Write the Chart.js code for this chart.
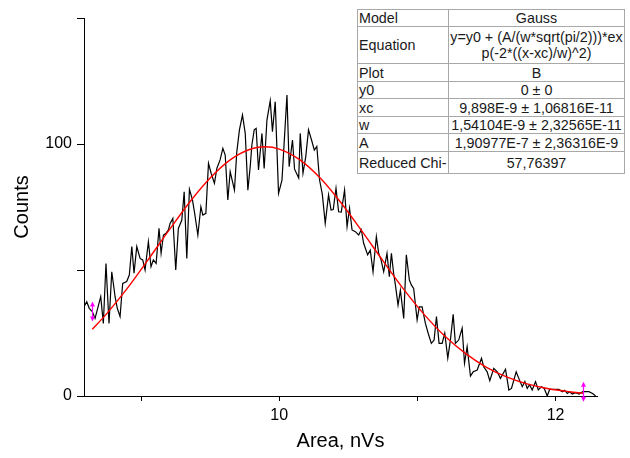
<!DOCTYPE html>
<html>
<head>
<meta charset="utf-8">
<script src="https://cdn.jsdelivr.net/npm/chart.js@4"></script>
<style>
  body { margin: 0; background: #fff; }
  #wrap { position: relative; width: 630px; height: 458px; }
  #fitTable {
    position: absolute; left: 357px; top: 9px; width: 268px;
    border-collapse: collapse; table-layout: fixed;
    font-family: "Liberation Sans", Arial, sans-serif; font-size: 14.3px; color: #1a1a1a;
    background: #fff; border: 1px solid #707070;
  }
  #fitTable td { border: 1px solid #a8a8a8; padding: 0 1px; line-height: 16px; white-space: nowrap; overflow: hidden; }
  #fitTable td:first-child { width: 88px; text-align: left; }
  #fitTable td:last-child { text-align: center; }
</style>
</head>
<body>
<div id="wrap">
  <canvas id="grafico" width="630" height="458"></canvas>
  <table id="fitTable">
    <tr style="height:16px"><td>Model</td><td>Gauss</td></tr>
    <tr style="height:37px"><td>Equation</td><td>y=y0 + (A/(w*sqrt(pi/2)))*ex<br>p(-2*((x-xc)/w)^2)</td></tr>
    <tr style="height:18px"><td>Plot</td><td>B</td></tr>
    <tr style="height:17px"><td>y0</td><td>0 ± 0</td></tr>
    <tr style="height:18px"><td>xc</td><td>9,898E-9 ± 1,06816E-11</td></tr>
    <tr style="height:17px"><td>w</td><td>1,54104E-9 ± 2,32565E-11</td></tr>
    <tr style="height:18px"><td>A</td><td>1,90977E-7 ± 2,36316E-9</td></tr>
    <tr style="height:22px"><td>Reduced Chi-</td><td>57,76397</td></tr>
  </table>
</div>
<script>
// histograma (Area em nVs, contagens)
const areaNVs = [8.587, 8.607, 8.625, 8.647, 8.667, 8.708, 8.727, 8.746, 8.768, 8.788, 8.812, 8.828, 8.848, 8.867, 8.896, 8.915, 8.933, 8.949, 8.969, 8.993,
  9.012, 9.029, 9.053, 9.072, 9.089, 9.109, 9.130, 9.145, 9.162, 9.181, 9.198, 9.210, 9.230, 9.251, 9.270, 9.295, 9.312, 9.331, 9.350, 9.372,
  9.388, 9.411, 9.433, 9.447, 9.469, 9.488, 9.507, 9.531, 9.549, 9.572, 9.592, 9.609, 9.628, 9.645, 9.676, 9.693, 9.712, 9.734, 9.754, 9.773,
  9.790, 9.802, 9.819, 9.833, 9.850, 9.875, 9.891, 9.911, 9.935, 9.951, 9.971, 9.995, 10.020, 10.056, 10.072, 10.096, 10.111, 10.141, 10.152, 10.172,
  10.192, 10.212, 10.237, 10.254, 10.272, 10.292, 10.312, 10.333, 10.357, 10.375, 10.391, 10.411, 10.430, 10.449, 10.473, 10.491, 10.509, 10.527, 10.551, 10.575,
  10.594, 10.611, 10.640, 10.659, 10.679, 10.703, 10.720, 10.737, 10.756, 10.780, 10.797, 10.812, 10.828, 10.841, 10.860, 10.877, 10.901, 10.920, 10.942, 10.957,
  10.973, 10.998, 11.014, 11.034, 11.058, 11.078, 11.101, 11.121, 11.138, 11.157, 11.179, 11.198, 11.220, 11.239, 11.259, 11.275, 11.299, 11.324, 11.341, 11.360,
  11.384, 11.404, 11.433, 11.464, 11.480, 11.505, 11.524, 11.553, 11.578, 11.601, 11.638, 11.662, 11.681, 11.715, 11.739, 11.759, 11.778, 11.795, 11.812, 11.831,
  11.855, 11.875, 11.899, 11.918, 11.940, 11.957, 11.988, 12.024, 12.049, 12.065, 12.085, 12.101, 12.121, 12.145, 12.170, 12.198, 12.217, 12.241, 12.268, 12.290];
const counts = [35.4, 37.4, 34.8, 33.5, 30.8, 39.4, 28.8, 52.6, 28.8, 49.3, 39.4, 34.8, 31.5, 44.7, 45.4, 48, 59.3, 48.7, 59.3, 54.6,
  54, 50, 61.2, 51.3, 54, 52.6, 66.5, 56.6, 63.9, 64.6, 65.9, 68.5, 70.5, 50, 66.5, 69.8, 81, 54.6, 82, 77.8,
  72.5, 63.9, 75.1, 71.8, 72.5, 92.3, 88.4, 84.4, 90.4, 93.7, 98.3, 95.6, 77.8, 89, 81.7, 96.9, 105.6, 111.5, 104.2, 81.7,
  91, 99.6, 105.6, 106.2, 89.7, 104.2, 90.3, 109.5, 117.2, 104.9, 116.8, 80.4, 85.7, 119.4, 91, 101.6, 90, 86.5, 104.2, 88.4,
  95, 105.6, 101, 97.6, 99, 85.7, 80, 68.5, 79.8, 73.8, 74, 82.4, 73.1, 73, 81.7, 67.2, 74.5, 65.9, 65.2, 63.9,
  66, 60.6, 56, 57.9, 49.3, 63.2, 56.6, 54, 49.3, 56.6, 47.3, 56.6, 48.7, 44, 36.1, 42, 30.8, 56, 46, 44,
  42.7, 30.2, 35.4, 35.4, 28.8, 24.9, 20.9, 22.2, 31.5, 20.9, 20.9, 24.9, 15, 22.2, 32.4, 20.9, 22.2, 26.9, 13, 19.6,
  7.9, 9.6, 10.3, 15, 11.6, 9.6, 6.1, 11, 9.6, 7, 10.6, 2.4, 3, 9.6, 6.3, 3.7, 5.7, 3, 4.5, 2.4,
  5.7, 2.4, 3.7, 3, 0, 2.6, 2.6, 2.6, 1.7, 2.3, 1, 1.7, 0.8, 1.3, 0.8, 1.7, 1.7, 1.7, 1, 0];

// curva de ajuste (vermelha)
const fitArea = [8.647, 8.75, 8.9, 9.05, 9.2, 9.35, 9.5, 9.65, 9.8, 9.9, 10.0, 10.15, 10.3, 10.45, 10.6, 10.75, 10.9, 11.05, 11.2, 11.35, 11.5, 11.65, 11.8, 11.95, 12.1, 12.198];
const fitCounts = [26.5, 32.6, 42.7, 54.0, 65.6, 76.8, 86.5, 93.9, 98.1, 98.9, 98.0, 93.7, 86.3, 76.5, 65.3, 53.7, 42.4, 32.3, 23.7, 16.8, 11.4, 7.5, 4.7, 2.9, 1.7, 1.1];

// limites do intervalo de ajuste (marcadores magenta)
const fitRange = [8.647, 12.198];

const xTicks = [10, 12];
const yTicks = [0, 100];

const fonte = '"Liberation Sans", Arial, sans-serif';

const marcadores = {
    id: 'marcadores',
    afterDatasetsDraw(chart) {
        const { ctx, scales: { x, y } } = chart;
        ctx.save();
        ctx.strokeStyle = '#ff00ff';
        ctx.fillStyle = '#ff00ff';
        ctx.lineWidth = 1.2;
        fitRange.forEach(v => {
            const i = areaNVs.indexOf(v);
            const px = Math.round(x.getPixelForValue(v)) + 0.5;
            const py = y.getPixelForValue(counts[i]);
            ctx.beginPath(); ctx.moveTo(px, py - 7); ctx.lineTo(px, py + 7); ctx.stroke();
            ctx.beginPath(); ctx.moveTo(px, py - 10); ctx.lineTo(px - 2.5, py - 5); ctx.lineTo(px + 2.5, py - 5); ctx.fill();
            ctx.beginPath(); ctx.moveTo(px, py + 10); ctx.lineTo(px - 2.5, py + 5); ctx.lineTo(px + 2.5, py + 5); ctx.fill();
        });
        ctx.restore();
    }
};

const eixo = (titulo, min, max, passo, rotulos, tamTick, padTitulo, extra) => Object.assign({
    type: 'linear', min, max,
    border: { display: true, color: '#000', width: 1 },
    grid: { display: true, drawOnChartArea: false, drawTicks: true, tickLength: tamTick, tickColor: '#000' },
    ticks: {
        stepSize: passo, includeBounds: false, color: '#000', padding: 5,
        font: { family: fonte, size: 16 },
        callback: v => rotulos.includes(v) ? String(v) : ''
    },
    title: { display: true, text: titulo, color: '#000', padding: padTitulo, font: { family: fonte, size: 20 } }
}, extra);

new Chart(document.getElementById('grafico').getContext('2d'), {
    type: 'scatter',
    data: {
        datasets: [
            {
                label: 'Fit', data: fitArea.map((v, i) => ({ x: v, y: fitCounts[i] })),
                showLine: true, borderColor: '#ff0000', borderWidth: 1.4, pointRadius: 0,
                cubicInterpolationMode: 'monotone'
            },
            {
                label: 'B', data: areaNVs.map((v, i) => ({ x: v, y: counts[i] })),
                showLine: true, borderColor: '#000', borderWidth: 1.2, pointRadius: 0, tension: 0
            }
        ]
    },
    options: {
        responsive: false,
        animation: false,
        layout: { padding: { top: 18, right: 33, left: 0, bottom: 0 } },
        scales: {
            x: eixo('Area, nVs', 8.587, 12.3, 1, xTicks, 5, { top: 0, bottom: 5 }, { afterFit: s => { s.height = 62; } }),
            y: eixo('Counts', 0, 150, 50, yTicks, 7, { top: 10, bottom: 0 }, { afterFit: s => { s.width = 84; } })
        },
        plugins: { legend: { display: false }, tooltip: { enabled: false } }
    },
    plugins: [marcadores]
});
</script>
</body>
</html>
